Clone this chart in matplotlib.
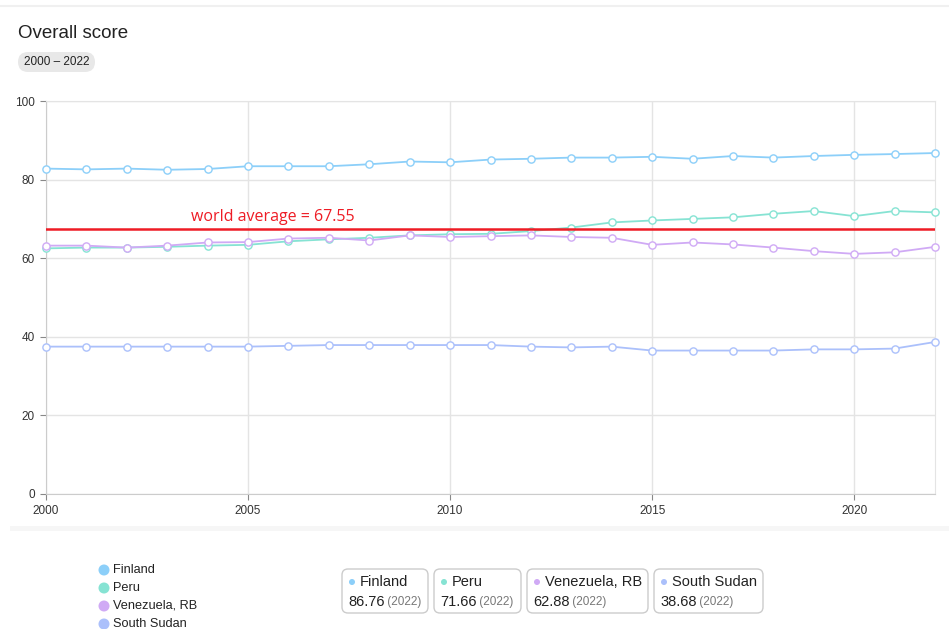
import numpy as np
import matplotlib.pyplot as plt
from matplotlib.patches import FancyBboxPatch, Circle

plt.rcParams['font.family'] = ['Liberation Sans', 'DejaVu Sans']

years = list(range(2000, 2023))

finland = [82.8, 82.6, 82.8, 82.5, 82.7, 83.4, 83.4, 83.4, 83.9, 84.6, 84.4,
           85.1, 85.3, 85.6, 85.6, 85.8, 85.3, 86.0, 85.6, 86.0, 86.3, 86.5, 86.76]
peru = [62.5, 62.7, 62.7, 62.9, 63.2, 63.4, 64.3, 64.8, 65.2, 65.8, 66.1,
        66.2, 66.9, 67.8, 69.1, 69.6, 70.0, 70.4, 71.3, 72.0, 70.7, 72.0, 71.66]
venezuela = [63.2, 63.2, 62.7, 63.2, 64.0, 64.1, 65.0, 65.2, 64.5, 65.8, 65.4,
             65.6, 65.8, 65.4, 65.2, 63.4, 64.0, 63.5, 62.7, 61.8, 61.1, 61.5, 62.88]
south_sudan = [37.5, 37.5, 37.5, 37.5, 37.5, 37.5, 37.7, 37.9, 37.9, 37.9, 37.9,
               37.9, 37.5, 37.3, 37.5, 36.5, 36.5, 36.5, 36.5, 36.8, 36.8, 37.0, 38.68]

names = ['Finland', 'Peru', 'Venezuela, RB', 'South Sudan']
colors = ['#8ccff9', '#86e3d3', '#d0aaf5', '#abc0fb']
series = [finland, peru, venezuela, south_sudan]
world_avg = 67.55

W, H = 949, 629
fig = plt.figure(figsize=(W / 100, H / 100), dpi=100)

# main chart area
ax = fig.add_axes([46 / W, 1 - 494 / H, (935 - 46) / W, (494 - 101) / H])
for name, vals, c in zip(names, series, colors):
    ax.plot(years, vals, color=c, lw=1.3, marker='o', ms=5.2,
            mfc='white', mec=c, mew=1.0, zorder=3, clip_on=False)

ax.axhline(world_avg, color='#ee1c25', lw=1.8, zorder=4)
ax.text(2003.6, world_avg + 0.9, f'world average = {world_avg}', color='#ee1c25',
        fontsize=11.5, family='Open Sans', va='bottom', ha='left')

ax.set_xlim(2000, 2022)
ax.set_ylim(0, 100)
ax.set_xticks([2000, 2005, 2010, 2015, 2020])
ax.set_yticks([0, 20, 40, 60, 80, 100])
ax.grid(True, color='#e4e4e4', lw=1)
ax.set_axisbelow(True)
for s in ['top', 'right']:
    ax.spines[s].set_color('#e4e4e4')
for s in ['left', 'bottom']:
    ax.spines[s].set_color('#cccccc')
ax.tick_params(colors='#888888', labelcolor='#333333', labelsize=8.5, length=4,
               width=0.8, pad=4)

# overlay in pixel coordinates for header, legend and cards
ov = fig.add_axes([0, 0, 1, 1], facecolor='none')
ov.set_xlim(0, W)
ov.set_ylim(H, 0)
ov.axis('off')

ov.plot([0, W], [6, 6], color='#f0f0f0', lw=1.5)
ov.fill_between([10, W], 526, 531, color='#f6f6f6', lw=0)

ov.text(18, 34, 'Overall score', fontsize=13.5, color='#222222', va='center', ha='left')
ov.add_patch(FancyBboxPatch((18, 52), 77, 20, boxstyle='round,pad=0,rounding_size=10',
                            fc='#e8e8e8', ec='none'))
ov.text(56.5, 62, '2000 \u2013 2022', fontsize=8.5, color='#222222', va='center', ha='center')

# legend
for i, (name, c) in enumerate(zip(names, colors)):
    y = 570 + i * 18
    ov.add_patch(Circle((104, y), 5.5, fc=c, ec='none'))
    ov.text(113, y, name, fontsize=9.2, color='#222222', va='center', ha='left')

# latest-value cards
cards = [(342, 428), (434, 521), (527, 648), (654, 763)]
for (x0, x1), name, vals, c in zip(cards, names, series, colors):
    ov.add_patch(FancyBboxPatch((x0, 569), x1 - x0, 44,
                                boxstyle='round,pad=0,rounding_size=6',
                                fc='white', ec='#cccccc', lw=1))
    ov.add_patch(Circle((x0 + 10, 582), 3, fc=c, ec='none'))
    ov.text(x0 + 18, 582, name, fontsize=10.5, color='#222222', va='center', ha='left')
    t = ov.text(x0 + 6, 602, f'{vals[-1]:.2f}', fontsize=10.5, color='#222222',
                va='center', ha='left')
    ov.annotate(f' ({years[-1]})', xycoords=t, xy=(1, 0.5), va='center', ha='left',
                fontsize=8.5, color='#777777')

fig.savefig('out.png', dpi=100)
